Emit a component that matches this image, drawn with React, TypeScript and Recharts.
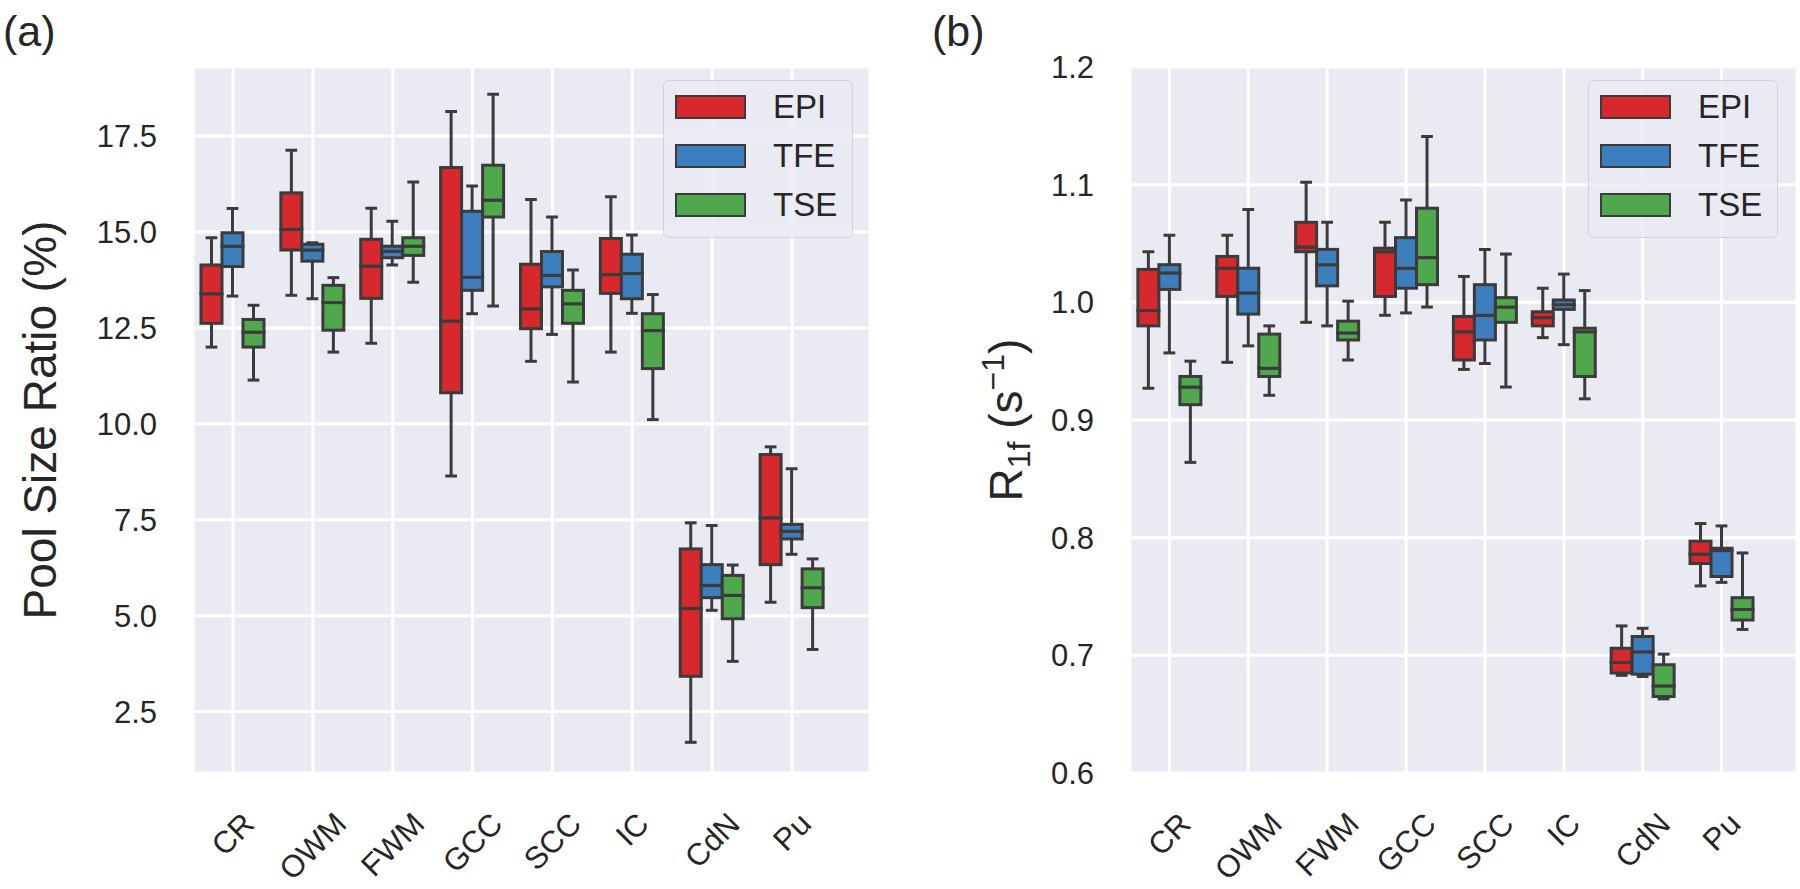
import React from 'react';
import { ComposedChart, Bar, XAxis, YAxis, CartesianGrid, Legend, Label } from 'recharts';

const FONT = '"Liberation Sans", Arial, sans-serif';
const TEXT = '#262626';
const EDGE = '#3b3b3b';
const LW = 3;

const regions = ['CR', 'OWM', 'FWM', 'GCC', 'SCC', 'IC', 'CdN', 'Pu'];
const seriesNames = ['EPI', 'TFE', 'TSE'];
const seriesColors = ['#d7282d', '#3d7ebe', '#4fa94c'];

// each row: [min, q1, median, q3, max] for one region
const poolEPI = [
  [12.0, 12.62, 13.39, 14.14, 14.85],
  [13.35, 14.53, 15.07, 16.02, 17.13],
  [12.1, 13.27, 14.11, 14.81, 15.62],
  [8.64, 10.81, 12.68, 16.68, 18.14],
  [11.63, 12.48, 13.0, 14.16, 15.85],
  [11.87, 13.4, 13.89, 14.83, 15.92],
  [1.7, 3.42, 5.19, 6.74, 7.42],
  [5.35, 6.33, 7.55, 9.2, 9.4],
];
const poolTFE = [
  [13.33, 14.1, 14.63, 14.98, 15.61],
  [13.26, 14.24, 14.53, 14.68, 14.72],
  [14.14, 14.33, 14.5, 14.63, 15.28],
  [12.87, 13.48, 13.82, 15.54, 16.2],
  [12.33, 13.57, 13.87, 14.49, 15.39],
  [12.88, 13.26, 13.92, 14.42, 14.92],
  [5.14, 5.47, 5.79, 6.33, 7.35],
  [6.6, 7.0, 7.2, 7.38, 8.83],
];
const poolTSE = [
  [11.14, 12.0, 12.39, 12.72, 13.09],
  [11.87, 12.44, 13.16, 13.61, 13.81],
  [13.69, 14.39, 14.63, 14.85, 16.3],
  [13.07, 15.39, 15.83, 16.74, 18.59],
  [11.09, 12.62, 13.13, 13.48, 14.01],
  [10.11, 11.44, 12.43, 12.87, 13.37],
  [3.81, 4.92, 5.53, 6.05, 6.32],
  [4.12, 5.21, 5.73, 6.22, 6.48],
];

const r1fEPI = [
  [0.927, 0.98, 0.993, 1.028, 1.043],
  [0.949, 1.005, 1.029, 1.039, 1.057],
  [0.983, 1.043, 1.047, 1.068, 1.102],
  [0.989, 1.005, 1.043, 1.046, 1.068],
  [0.943, 0.951, 0.975, 0.988, 1.022],
  [0.97, 0.98, 0.987, 0.992, 1.012],
  [0.683, 0.685, 0.694, 0.706, 0.725],
  [0.759, 0.778, 0.786, 0.797, 0.812],
];
const r1fTFE = [
  [0.957, 1.011, 1.025, 1.032, 1.057],
  [0.963, 0.99, 1.008, 1.029, 1.079],
  [0.98, 1.014, 1.032, 1.045, 1.068],
  [0.991, 1.012, 1.029, 1.055, 1.087],
  [0.948, 0.968, 0.989, 1.015, 1.045],
  [0.964, 0.994, 0.998, 1.002, 1.024],
  [0.682, 0.684, 0.703, 0.716, 0.723],
  [0.762, 0.767, 0.789, 0.791, 0.81],
];
const r1fTSE = [
  [0.864, 0.913, 0.928, 0.937, 0.95],
  [0.921, 0.937, 0.944, 0.973, 0.98],
  [0.951, 0.968, 0.974, 0.984, 1.001],
  [0.996, 1.015, 1.038, 1.08, 1.141],
  [0.928, 0.983, 0.996, 1.004, 1.041],
  [0.918, 0.937, 0.975, 0.978, 1.01],
  [0.663, 0.665, 0.674, 0.692, 0.701],
  [0.722, 0.73, 0.739, 0.749, 0.787],
];

const poolTicks = [2.5, 5, 7.5, 10, 12.5, 15, 17.5];
const r1fTicks = [0.6, 0.7, 0.8, 0.9, 1.0, 1.1, 1.2];

// stacked segments: invisible base, lower whisker, lower box half, upper box half, upper whisker
function buildRows(sets: number[][][]) {
  return regions.map((name, i) => {
    const row: any = { name };
    seriesNames.forEach((s, k) => {
      const [mn, q1, md, q3, mx] = sets[k][i];
      row[s + '_base'] = mn;
      row[s + '_lw'] = q1 - mn;
      row[s + '_lo'] = md - q1;
      row[s + '_hi'] = q3 - md;
      row[s + '_uw'] = mx - q3;
    });
    return row;
  });
}

const poolRows = buildRows([poolEPI, poolTFE, poolTSE]);
const r1fRows = buildRows([r1fEPI, r1fTFE, r1fTSE]);

const norm = (p: any) => {
  const y0 = Math.min(p.y, p.y + p.height);
  return { x: p.x, w: p.width, top: y0, bottom: y0 + Math.abs(p.height) };
};

const EmptyShape = () => <g />;

const LowWhisker = (p: any) => {
  const { x, w, top, bottom } = norm(p);
  const cx = x + w / 2;
  const cap = w * 0.28;
  return (
    <g>
      <line x1={cx} x2={cx} y1={top} y2={bottom} stroke={EDGE} strokeWidth={LW} />
      <line x1={cx - cap} x2={cx + cap} y1={bottom} y2={bottom} stroke={EDGE} strokeWidth={LW} />
    </g>
  );
};

const HighWhisker = (p: any) => {
  const { x, w, top, bottom } = norm(p);
  const cx = x + w / 2;
  const cap = w * 0.28;
  return (
    <g>
      <line x1={cx} x2={cx} y1={top} y2={bottom} stroke={EDGE} strokeWidth={LW} />
      <line x1={cx - cap} x2={cx + cap} y1={top} y2={top} stroke={EDGE} strokeWidth={LW} />
    </g>
  );
};

const boxShape = (color: string) => (p: any) => {
  const { x, w, top, bottom } = norm(p);
  return <rect x={x} y={top} width={w} height={bottom - top} fill={color} stroke={EDGE} strokeWidth={LW} />;
};

let ctx: any = null;
const textWidth = (t: string, font: string) => {
  if (!ctx) ctx = document.createElement('canvas').getContext('2d');
  ctx.font = font;
  return ctx.measureText(t).width;
};

const TICK_FS = 31;

// rotated 45°, bounding box centred under the tick (matplotlib style)
const XTick = (props: any) => {
  const { x, y, payload } = props;
  const w = textWidth(payload.value, `${TICK_FS}px "Liberation Sans"`);
  const h = TICK_FS * 0.95;
  const side = (w + h) / Math.SQRT2;
  return (
    <text
      transform={`translate(${x},${y + side / 2}) rotate(-45)`}
      textAnchor="middle"
      dominantBaseline="central"
      fontSize={TICK_FS}
      fontFamily={FONT}
      fill={TEXT}
    >
      {payload.value}
    </text>
  );
};

const PoolLabel = (props: any) => {
  const vb = props.viewBox;
  const x = vb.x + vb.width - 137;
  const y = vb.y + vb.height / 2;
  return (
    <text x={x} y={y} transform={`rotate(-90, ${x}, ${y})`} textAnchor="middle" fontSize={46} fontFamily={FONT} fill={TEXT}>
      Pool Size Ratio (%)
    </text>
  );
};

const R1fLabel = (props: any) => {
  const vb = props.viewBox;
  const x = vb.x + vb.width - 108;
  const y = vb.y + vb.height / 2;
  return (
    <text x={x} y={y} transform={`rotate(-90, ${x}, ${y})`} textAnchor="middle" fontSize={46} fontFamily={FONT} fill={TEXT}>
      R
      <tspan fontSize={32} dy={8}>1f</tspan>
      <tspan dy={-8}> (s</tspan>
      <tspan fontSize={32} dy={-18}>−1</tspan>
      <tspan dy={18}>)</tspan>
    </text>
  );
};

const LegendBox = () => (
  <div
    style={{
      width: 190,
      height: 158,
      boxSizing: 'border-box',
      border: '1.5px solid #d2d2da',
      borderRadius: 6,
      background: 'rgba(234,234,242,0.8)',
      position: 'relative',
      fontFamily: FONT,
    }}
  >
    {seriesNames.map((s, i) => (
      <div key={s} style={{ position: 'absolute', left: 11, top: 14 + i * 49, height: 24, display: 'flex', alignItems: 'center' }}>
        <span
          style={{
            display: 'inline-block',
            width: 71,
            height: 24,
            boxSizing: 'border-box',
            background: seriesColors[i],
            border: `2.5px solid ${EDGE}`,
          }}
        />
        <span style={{ marginLeft: 27, fontSize: 33, color: TEXT, lineHeight: '24px' }}>{s}</span>
      </div>
    ))}
  </div>
);

const parts = ['base', 'lw', 'lo', 'hi', 'uw'];

function BoxPanel(props: any) {
  const { rows, domain, ticks, marginLeft, marginRight, padRight, label, legendLeft } = props;
  return (
    <ComposedChart
      width={900}
      height={889}
      data={rows}
      margin={{ top: 67, right: marginRight, bottom: 16, left: marginLeft }}
      barCategoryGap="10%"
      barGap={0}
    >
      <CartesianGrid fill="#EAEAF2" stroke="#ffffff" strokeWidth={3} />
      <XAxis
        dataKey="name"
        type="category"
        height={100}
        padding={{ left: 0, right: padRight }}
        axisLine={false}
        tickLine={false}
        tickSize={0}
        tickMargin={35}
        interval={0}
        tick={<XTick />}
      />
      <YAxis
        type="number"
        width={100}
        domain={domain}
        ticks={ticks}
        allowDataOverflow
        axisLine={false}
        tickLine={false}
        tickSize={0}
        tickMargin={36}
        interval={0}
        tickFormatter={(v: number) => v.toFixed(1)}
        tick={{ fontSize: TICK_FS, fill: TEXT, fontFamily: FONT }}
      >
        <Label content={label} />
      </YAxis>
      <Legend
        layout="vertical"
        align="center"
        verticalAlign="middle"
        content={<LegendBox />}
        wrapperStyle={{ left: legendLeft, top: 80, width: 190, height: 158 }}
      />
      {seriesNames.map((s, k) =>
        parts.map((part) => (
          <Bar
            key={s + part}
            dataKey={s + '_' + part}
            stackId={s}
            isAnimationActive={false}
            legendType="none"
            shape={
              part === 'base'
                ? EmptyShape
                : part === 'lw'
                ? LowWhisker
                : part === 'uw'
                ? HighWhisker
                : boxShape(seriesColors[k])
            }
          />
        ))
      )}
    </ComposedChart>
  );
}

export default function App() {
  return (
    <div style={{ position: 'absolute', left: 0, top: 0, width: 1800, height: 889, background: '#fff', fontFamily: FONT }}>
      <div style={{ position: 'absolute', left: 0, top: 0 }}>
        <BoxPanel
          rows={poolRows}
          domain={[0.9, 19.3]}
          ticks={poolTicks}
          marginLeft={93}
          marginRight={30}
          padRight={38}
          label={PoolLabel}
          legendLeft={663}
        />
      </div>
      <div style={{ position: 'absolute', left: 900, top: 0 }}>
        <BoxPanel
          rows={r1fRows}
          domain={[0.6, 1.2]}
          ticks={r1fTicks}
          marginLeft={130}
          marginRight={3}
          padRight={36}
          label={R1fLabel}
          legendLeft={688}
        />
      </div>
      <svg width={1800} height={889} style={{ position: 'absolute', left: 0, top: 0, pointerEvents: 'none' }}>
        <text x={3} y={46} fontSize={43} fontFamily={FONT} fill={TEXT}>(a)</text>
        <text x={932} y={46} fontSize={43} fontFamily={FONT} fill={TEXT}>(b)</text>
      </svg>
    </div>
  );
}
